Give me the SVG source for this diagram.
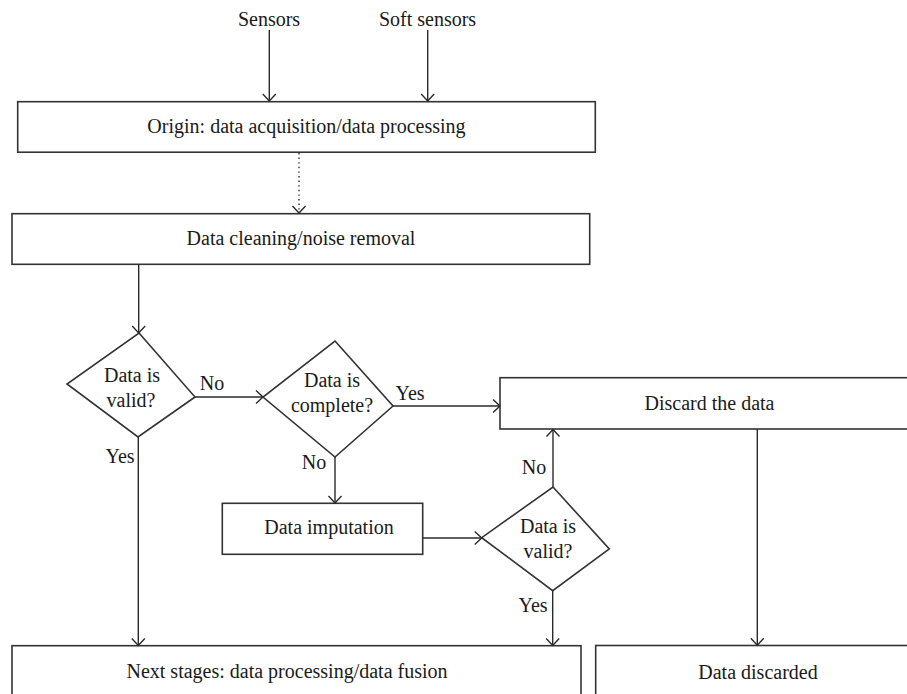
<svg xmlns="http://www.w3.org/2000/svg" width="907" height="694" viewBox="0 0 907 694">
<style>
  .box { fill: #fff; stroke: #333; stroke-width: 1.6; }
  .t { font-family: "Liberation Serif", "Times New Roman", serif; font-size: 20px; fill: #1a1a1a; text-anchor: middle; }
  .c { fill: none; stroke: #2a2a2a; stroke-width: 1.4; }
  .dot { stroke-dasharray: 1.4 3.2; }
</style>
<defs>
  <marker id="arr" viewBox="-10 -10 20 20" markerWidth="20" markerHeight="20" markerUnits="userSpaceOnUse" orient="auto" refX="0" refY="0">
    <path d="M-7,-6.5 L0,0 L-7,6.5" fill="none" stroke="#2a2a2a" stroke-width="1.4"/>
  </marker>
</defs>
<rect width="907" height="694" fill="#fff"/>

<g id="sensors"><text class="t" x="269" y="26">Sensors</text></g>
<g id="soft-sensors"><text class="t" x="427.5" y="26">Soft sensors</text></g>

<g id="origin">
  <rect class="box" x="17.7" y="101.7" width="577.6" height="50.5"/>
  <text class="t" x="306.5" y="133">Origin: data acquisition/data processing</text>
</g>
<g id="cleaning">
  <rect class="box" x="12" y="213.7" width="577.7" height="50.6"/>
  <text class="t" x="301" y="245">Data cleaning/noise removal</text>
</g>
<g id="valid1">
  <polygon class="box" points="139,333 195,397 138,437 67,384"/>
  <text class="t" x="132" y="382">Data is</text>
  <text class="t" x="131" y="407">valid?</text>
</g>
<g id="complete">
  <polygon class="box" points="335,341 393,406 335,457 263,397"/>
  <text class="t" x="332" y="387">Data is</text>
  <text class="t" x="332" y="412">complete?</text>
</g>
<g id="discard">
  <rect class="box" x="500" y="377.7" width="420" height="51.3"/>
  <text class="t" x="709.5" y="410">Discard the data</text>
</g>
<g id="imputation">
  <rect class="box" x="222.3" y="503.3" width="200.4" height="51"/>
  <text class="t" x="329" y="534">Data imputation</text>
</g>
<g id="valid2">
  <polygon class="box" points="553,487 609.3,549 552.7,590.7 481.7,537.7"/>
  <text class="t" x="548" y="533">Data is</text>
  <text class="t" x="548" y="558">valid?</text>
</g>
<g id="next">
  <rect class="box" x="12" y="645.7" width="569" height="70"/>
  <text class="t" x="287" y="678">Next stages: data processing/data fusion</text>
</g>
<g id="discarded">
  <rect class="box" x="595.7" y="645.5" width="330" height="70"/>
  <text class="t" x="758" y="679">Data discarded</text>
</g>

<g id="connectors">
  <line class="c" x1="269.3" y1="30" x2="269.3" y2="101" marker-end="url(#arr)"/>
  <line class="c" x1="427.7" y1="30" x2="427.7" y2="101" marker-end="url(#arr)"/>
  <line class="c dot" x1="299" y1="153" x2="299" y2="213" marker-end="url(#arr)"/>
  <line class="c" x1="138.7" y1="265" x2="138.7" y2="333" marker-end="url(#arr)"/>
  <line class="c" x1="195" y1="397" x2="263" y2="397" marker-end="url(#arr)"/>
  <line class="c" x1="393" y1="406" x2="500" y2="406" marker-end="url(#arr)"/>
  <line class="c" x1="335" y1="457" x2="335" y2="503" marker-end="url(#arr)"/>
  <line class="c" x1="422.7" y1="538" x2="481.7" y2="538" marker-end="url(#arr)"/>
  <line class="c" x1="553" y1="487" x2="553" y2="429.5" marker-end="url(#arr)"/>
  <line class="c" x1="552.7" y1="590.7" x2="552.7" y2="645.5" marker-end="url(#arr)"/>
  <line class="c" x1="138.3" y1="437" x2="138.3" y2="645.5" marker-end="url(#arr)"/>
  <line class="c" x1="757.3" y1="429" x2="757.3" y2="645.3" marker-end="url(#arr)"/>
  <text class="t" x="212" y="390">No</text>
  <text class="t" x="410" y="400">Yes</text>
  <text class="t" x="120" y="463">Yes</text>
  <text class="t" x="314" y="469">No</text>
  <text class="t" x="534" y="474">No</text>
  <text class="t" x="533" y="612">Yes</text>
</g>
</svg>
